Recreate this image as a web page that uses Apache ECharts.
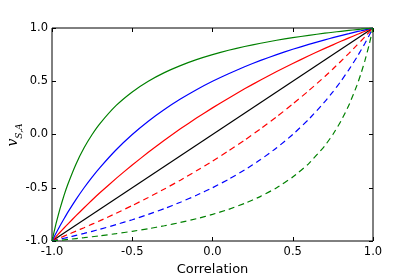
<!DOCTYPE html>
<html>
<head>
<meta charset="utf-8">
<script src="https://cdn.jsdelivr.net/npm/echarts@6/dist/echarts.min.js"></script>
<style>html,body{margin:0;padding:0;background:#fff}#c{width:415px;height:277px}</style>
</head>
<body>
<div id="c"></div>
<script>
const xs = [-1,-0.975,-0.95,-0.925,-0.9,-0.85,-0.8,-0.75,-0.7,-0.6,-0.5,-0.4,-0.3,-0.2,-0.1,0,0.1,0.2,0.3,0.4,0.5,0.6,0.7,0.75,0.8,0.85,0.9,0.925,0.95,0.975,1];
const greenSolid = [-1,-0.837,-0.696,-0.571,-0.462,-0.276,-0.125,0,0.105,0.273,0.4,0.5,0.581,0.647,0.703,0.75,0.791,0.826,0.857,0.885,0.909,0.931,0.951,0.96,0.969,0.977,0.985,0.989,0.993,0.996,1];
const greenDashed = [-1,-0.996,-0.993,-0.989,-0.985,-0.977,-0.969,-0.96,-0.951,-0.931,-0.909,-0.885,-0.857,-0.826,-0.791,-0.75,-0.703,-0.647,-0.581,-0.5,-0.4,-0.273,-0.105,0,0.125,0.276,0.462,0.571,0.696,0.837,1];
const blueSolid = [-1,-0.927,-0.857,-0.791,-0.727,-0.609,-0.5,-0.4,-0.308,-0.143,0,0.125,0.235,0.333,0.421,0.5,0.571,0.636,0.696,0.75,0.8,0.846,0.889,0.909,0.929,0.947,0.966,0.974,0.983,0.992,1];
const blueDashed = [-1,-0.992,-0.983,-0.974,-0.966,-0.947,-0.929,-0.909,-0.889,-0.846,-0.8,-0.75,-0.696,-0.636,-0.571,-0.5,-0.421,-0.333,-0.235,-0.125,0,0.143,0.308,0.4,0.5,0.609,0.727,0.791,0.857,0.927,1];
const redSolid = [-1,-0.959,-0.918,-0.878,-0.839,-0.762,-0.688,-0.615,-0.545,-0.412,-0.286,-0.167,-0.054,0.053,0.154,0.25,0.341,0.429,0.512,0.591,0.667,0.739,0.809,0.842,0.875,0.907,0.939,0.954,0.970,0.985,1];
const redDashed = [-1,-0.985,-0.970,-0.954,-0.939,-0.907,-0.875,-0.842,-0.809,-0.739,-0.667,-0.591,-0.512,-0.429,-0.341,-0.25,-0.154,-0.053,0.054,0.167,0.286,0.412,0.545,0.615,0.688,0.762,0.839,0.878,0.918,0.959,1];
const blackXs = [-1, 1];
const blackLine = [-1, 1];
const xLabel = 'Correlation';

const F = 'DejaVu Sans';
function pairs(x, y) { return x.map((v, i) => [v, y[i]]); }
function line(x, y, color, dashed) {
  return {
    type: 'line', data: pairs(x, y), xAxisIndex: 0, yAxisIndex: 0,
    showSymbol: false, symbol: 'none', smooth: 0.15, silent: true,
    lineStyle: { color: color, width: 1.2, type: dashed ? [6, 4] : 'solid' },
    z: 2
  };
}
const fmt = v => v.toFixed(1);
const common = { type: 'value', min: -1, max: 1, interval: 0.5, splitLine: { show: false } };

const chart = echarts.init(document.getElementById('c'), null, { renderer: 'canvas' });
chart.setOption({
  animation: false,
  backgroundColor: '#fff',
  grid: { left: 52, right: 42, top: 28, bottom: 36, show: true, borderColor: '#000', borderWidth: 1, backgroundColor: 'transparent', containLabel: false, outerBoundsMode: 'none' },
  graphic: [{
    type: 'text', x: 15, y: 135, rotation: Math.PI / 2, silent: true,
    style: {
      text: '{v|v}{s|S,A}', align: 'center', verticalAlign: 'middle',
      rich: {
        v: { fontFamily: 'DejaVu Serif', fontStyle: 'italic', fontSize: 14, fill: '#000', verticalAlign: 'top', lineHeight: 18 },
        s: { fontFamily: 'DejaVu Serif', fontStyle: 'italic', fontSize: 9, fill: '#000', verticalAlign: 'bottom', lineHeight: 18 }
      }
    }
  }],
  xAxis: [
    Object.assign({}, common, {
      position: 'bottom',
      name: xLabel, nameLocation: 'middle', nameGap: 19,
      nameTextStyle: { fontFamily: F, fontSize: 13, color: '#000' },
      axisLine: { show: false, onZero: false },
      axisTick: { show: true, inside: true, length: 4, lineStyle: { color: '#000' } },
      axisLabel: { fontFamily: F, fontSize: 11.5, color: '#000', margin: 5, formatter: fmt, showMinLabel: true, showMaxLabel: true }
    }),
    Object.assign({}, common, {
      position: 'top',
      axisLine: { show: false, onZero: false },
      axisTick: { show: true, inside: true, length: 4, lineStyle: { color: '#000' } },
      axisLabel: { show: false }
    })
  ],
  yAxis: [
    Object.assign({}, common, {
      position: 'left',
      axisLine: { show: false, onZero: false },
      axisTick: { show: true, inside: true, length: 4, lineStyle: { color: '#000' } },
      axisLabel: { fontFamily: F, fontSize: 11.5, color: '#000', margin: 4, formatter: fmt, showMinLabel: true, showMaxLabel: true }
    }),
    Object.assign({}, common, {
      position: 'right',
      axisLine: { show: false, onZero: false },
      axisTick: { show: true, inside: true, length: 4, lineStyle: { color: '#000' } },
      axisLabel: { show: false }
    })
  ],
  series: [
    line(blackXs, blackLine, '#000000', false),
    line(xs, redSolid, '#ff0000', false),
    line(xs, redDashed, '#ff0000', true),
    line(xs, blueSolid, '#0000ff', false),
    line(xs, blueDashed, '#0000ff', true),
    line(xs, greenSolid, '#008000', false),
    line(xs, greenDashed, '#008000', true)
  ]
});
</script>
</body>
</html>
